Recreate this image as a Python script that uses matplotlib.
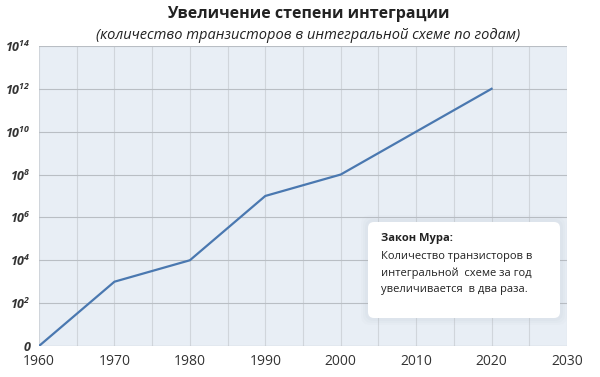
import matplotlib
matplotlib.use("Agg")
import matplotlib.pyplot as plt
from matplotlib.patches import FancyBboxPatch

plt.rcParams['font.family'] = ['Open Sans', 'DejaVu Sans']
plt.rcParams['mathtext.fontset'] = 'custom'
plt.rcParams['mathtext.rm'] = 'Open Sans:italic:bold'
plt.rcParams['mathtext.it'] = 'Open Sans:italic:bold'
plt.rcParams['mathtext.bf'] = 'Open Sans:italic:bold'

years = [1960, 1970, 1980, 1990, 2000, 2010, 2020]
exponents = [0, 3, 4, 7, 8, 10, 12]
x_ticks = [1960, 1970, 1980, 1990, 2000, 2010, 2020, 2030]
y_ticks = [0, 2, 4, 6, 8, 10, 12, 14]
y_labels = ['0'] + [r'$10^{%d}$' % v for v in y_ticks[1:]]

title = 'Увеличение степени интеграции'
subtitle = '(количество транзисторов в интегральной схеме по годам)'
box_title = 'Закон Мура:'
box_text = 'Количество транзисторов в\nинтегральной  схеме за год\nувеличивается  в два раза.'

fig = plt.figure(figsize=(6, 3.77), dpi=100)
ax = fig.add_axes([0.065, 0.0822, 0.88, 0.796])
ax.set_facecolor('#e8eef5')
ax.plot(years, exponents, color='#4a78b0', lw=1.6, zorder=3)
ax.set_xlim(1960, 2030)
ax.set_ylim(0, 14)
ax.set_xticks(x_ticks)
ax.set_xticks(range(1960, 2031, 5), minor=True)
ax.set_yticks(y_ticks)
ax.set_yticklabels(y_labels)
ax.grid(True, which='both', axis='x', color='#d0d5db', lw=0.8)
ax.grid(True, which='major', axis='y', color='#b9bec4', lw=0.8)
ax.tick_params(axis='both', which='both', length=0)
ax.tick_params(axis='x', labelsize=10, colors='#333333', pad=6)
ax.tick_params(axis='y', labelsize=9, colors='#333333', pad=6)
for lab in ax.get_yticklabels():
    lab.set_fontstyle('italic')
    lab.set_fontweight('bold')
for s in ax.spines.values():
    s.set_visible(False)
ax.axhline(0, color='#b9bec4', lw=0.8)

fig.text(0.513, 0.962, title, ha='center', va='center', fontsize=11.5, fontweight='bold', color='#222222')
fig.text(0.514, 0.907, subtitle, ha='center', va='center', fontsize=10.5, fontstyle='italic', color='#222222')

# annotation box
for i, a in enumerate([0.04, 0.05, 0.06]):
    pad = 7 - i * 2
    sh = FancyBboxPatch((368 - pad, 377 - 318 - pad), 192 + 2 * pad, 96 + 2 * pad,
                        boxstyle='round,pad=0,rounding_size=9', transform=None,
                        facecolor='#a9b4c0', alpha=a, edgecolor='none', zorder=4)
    fig.patches.append(sh)
box = FancyBboxPatch((368, 377 - 318), 192, 96, boxstyle='round,pad=0,rounding_size=6',
                     transform=None, facecolor='white', edgecolor='none', zorder=5)
fig.patches.append(box)
fig.text(381 / 600, 1 - 239 / 377, box_title, fontsize=8, fontweight='bold', color='#222222',
         ha='left', va='center', zorder=6)
fig.text(381 / 600, 1 - 251 / 377, box_text, fontsize=8, color='#222222', ha='left', va='top',
         linespacing=1.65, zorder=6)

fig.savefig('out.png', dpi=100)
